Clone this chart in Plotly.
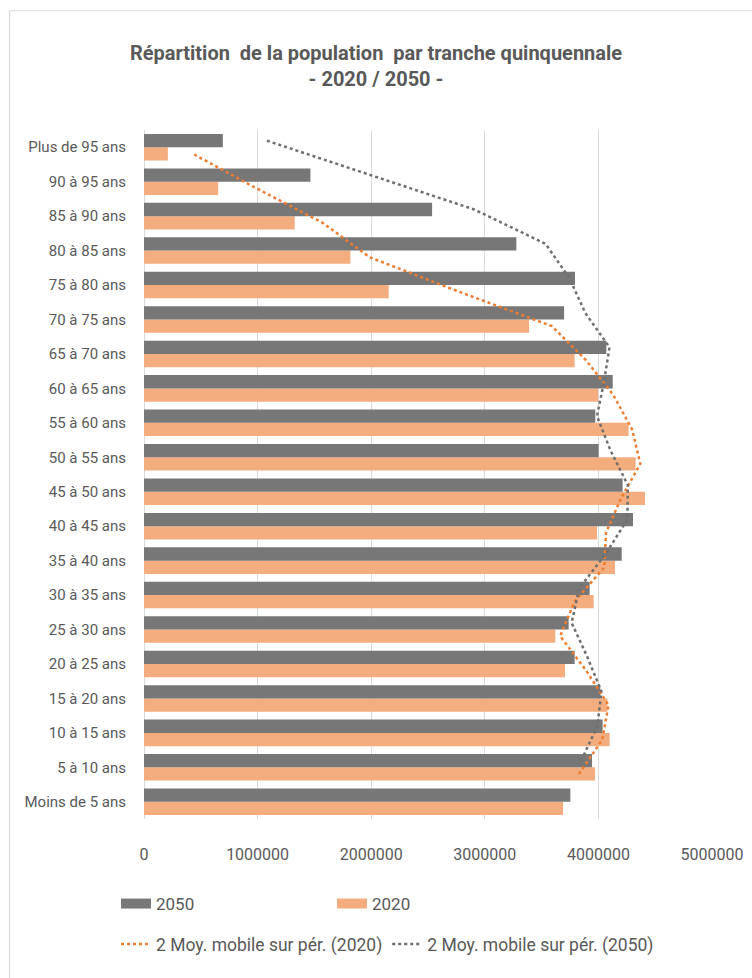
import plotly.graph_objects as go

# Age groups, youngest first (bottom of the chart)
categories = [
    "Moins de 5 ans", "5 à 10 ans", "10 à 15 ans", "15 à 20 ans", "20 à 25 ans",
    "25 à 30 ans", "30 à 35 ans", "35 à 40 ans", "40 à 45 ans", "45 à 50 ans",
    "50 à 55 ans", "55 à 60 ans", "60 à 65 ans", "65 à 70 ans", "70 à 75 ans",
    "75 à 80 ans", "80 à 85 ans", "85 à 90 ans", "90 à 95 ans", "Plus de 95 ans",
]

pop_2020 = [
    3689000, 3970000, 4099000, 4079000, 3706000,
    3621000, 3958000, 4146000, 3988000, 4410000,
    4328000, 4266000, 3997000, 3791000, 3390000,
    2154000, 1817000, 1327000, 653000, 210000,
]

pop_2050 = [
    3753000, 3944000, 4037000, 4017000, 3791000,
    3738000, 3923000, 4205000, 4305000, 4213000,
    4002000, 3973000, 4126000, 4070000, 3698000,
    3794000, 3278000, 2536000, 1465000, 694000,
]

x_ticks = [0, 1000000, 2000000, 3000000, 4000000, 5000000]

GREY_BAR = "#777777"
ORANGE_BAR = "#F3AD7E"
ORANGE_LINE = "#ED7D31"
GREY_LINE = "#6F6F6F"
TEXT = "#595959"
GRID = "#D9D9D9"
FONT = "Roboto, Liberation Sans, sans-serif"

BAR_W = 0.386


def moving_average(values, period=2):
    return [sum(values[i - period + 1:i + 1]) / period for i in range(period - 1, len(values))]


idx = list(range(len(categories)))
ma_2020 = moving_average(pop_2020)
ma_2050 = moving_average(pop_2050)

fig = go.Figure()

# Bars: 2050 sits above 2020 inside each age group
fig.add_trace(go.Bar(
    y=idx, x=pop_2020, orientation="h", name="2020",
    marker=dict(color=ORANGE_BAR, line=dict(width=0)),
    width=BAR_W, offset=-BAR_W, showlegend=False,
))
fig.add_trace(go.Bar(
    y=idx, x=pop_2050, orientation="h", name="2050",
    marker=dict(color=GREY_BAR, line=dict(width=0)),
    width=BAR_W, offset=0, showlegend=False,
))

# 2-period moving-average trend lines, centred on their own series' bars
fig.add_trace(go.Scatter(
    x=ma_2020, y=[i - BAR_W / 2 for i in idx[1:]], mode="lines",
    name="2 Moy. mobile sur pér. (2020)",
    line=dict(color=ORANGE_LINE, width=2.5, dash="dot"),
    legend="legend2",
))
fig.add_trace(go.Scatter(
    x=ma_2050, y=[i + BAR_W / 2 for i in idx[1:]], mode="lines",
    name="2 Moy. mobile sur pér. (2050)",
    line=dict(color=GREY_LINE, width=2.5, dash="dot"),
    legend="legend2",
))

# Legend swatches for the two bar series
fig.add_trace(go.Scatter(
    x=[None], y=[None], mode="lines", name="2050",
    line=dict(color=GREY_BAR, width=13), legend="legend",
))
fig.add_trace(go.Scatter(
    x=[None], y=[None], mode="lines", name="2020",
    line=dict(color=ORANGE_BAR, width=13), legend="legend",
))

W, H = 752, 978
L, R, T, B = 143.5, 711.7, 130.3, 819.5
pw, ph = R - L, B - T


def px_x(p):
    return (p - L) / pw


def px_y(p):
    return (B - p) / ph


fig.update_layout(
    width=W, height=H,
    margin=dict(l=L, r=W - R, t=T, b=H - B, autoexpand=False),
    paper_bgcolor="white", plot_bgcolor="white",
    font=dict(family=FONT, color=TEXT, size=15),
    title=dict(
        text="<b>Répartition\u00a0 de la population\u00a0 par tranche quinquennale<br>- 2020 / 2050 -</b>",
        x=0.5, xanchor="center", xref="container",
        y=1 - 60 / H, yanchor="top", yref="container",
        font=dict(family=FONT, size=20, color=TEXT),
    ),
    barmode="overlay",
    xaxis=dict(
        range=[0, 5000000], tickvals=x_ticks,
        ticktext=[str(v) for v in x_ticks],
        showgrid=True, gridcolor=GRID, gridwidth=1,
        zeroline=True, zerolinecolor=GRID, zerolinewidth=1,
        showline=False,
        ticks="outside", ticklen=21, tickcolor="rgba(0,0,0,0)",
        tickfont=dict(family=FONT, size=16, color=TEXT),
        fixedrange=True,
    ),
    yaxis=dict(
        range=[-0.5, len(categories) - 0.5],
        tickvals=idx, ticktext=categories,
        showgrid=False, zeroline=False, showline=False,
        ticks="outside", ticklen=14, tickcolor="rgba(0,0,0,0)",
        tickfont=dict(family=FONT, size=15, color=TEXT),
        fixedrange=True,
    ),
    legend=dict(
        orientation="h", xref="container", yref="container",
        x=116 / W, y=1 - 886 / H, xanchor="left", yanchor="top",
        entrywidth=171, entrywidthmode="pixels",
        traceorder="normal",
        font=dict(family=FONT, size=17, color=TEXT),
        bgcolor="rgba(0,0,0,0)",
    ),
    legend2=dict(
        orientation="h", xref="container", yref="container",
        x=116 / W, y=1 - 926 / H, xanchor="left", yanchor="top",
        traceorder="normal",
        font=dict(family=FONT, size=17.5, color=TEXT),
        bgcolor="rgba(0,0,0,0)",
    ),
    shapes=[dict(
        type="rect", xref="paper", yref="paper",
        x0=px_x(9), x1=px_x(W + 10), y0=px_y(H + 10), y1=px_y(11),
        line=dict(color=GRID, width=1.2), fillcolor="rgba(0,0,0,0)",
        layer="above",
    )],
)

fig.write_html("out.html")
